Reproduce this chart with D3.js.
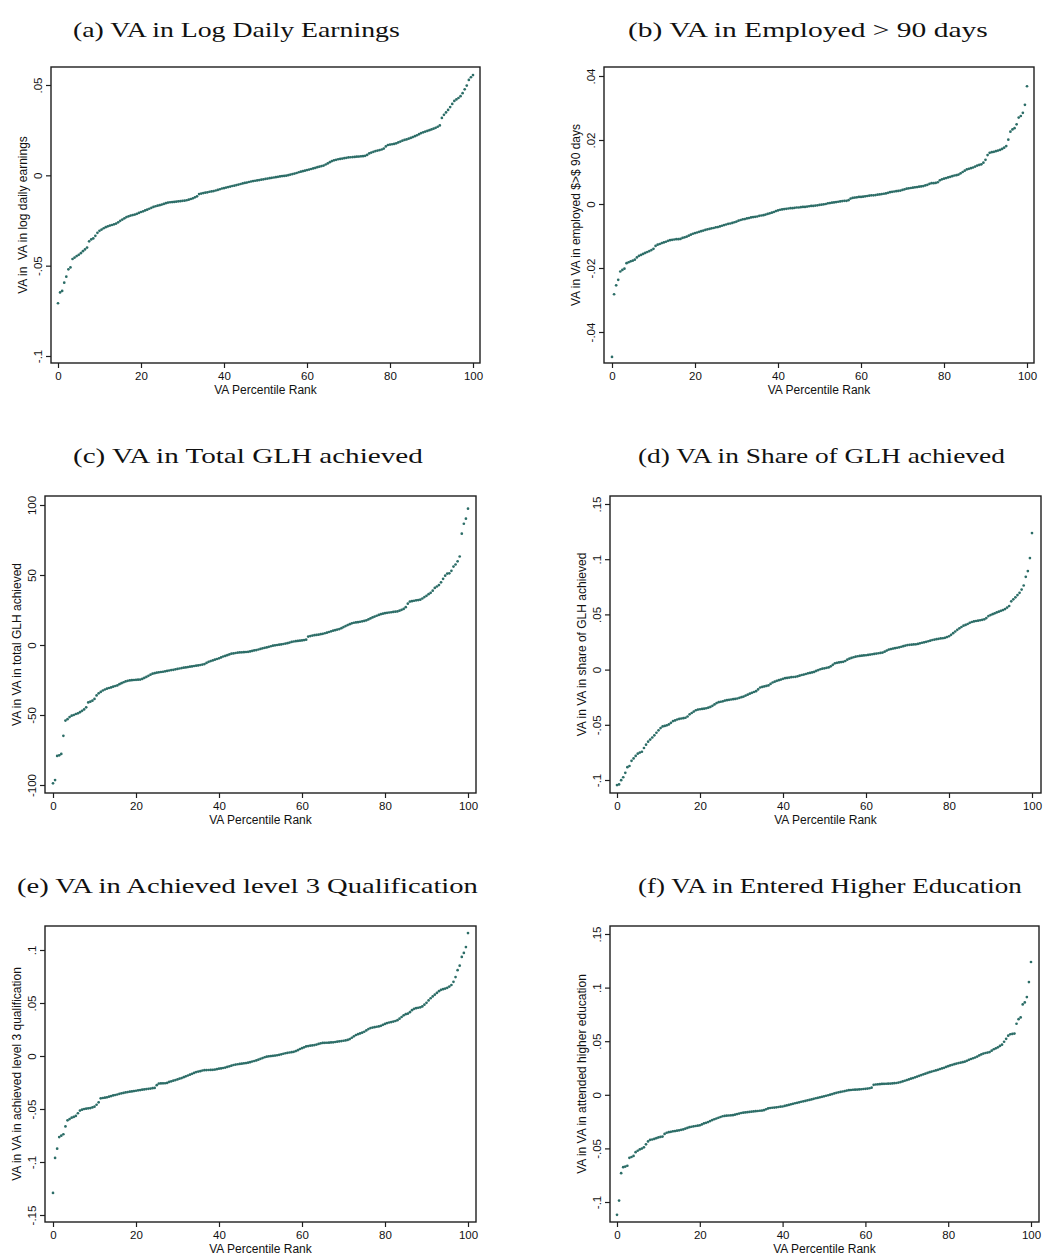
<!DOCTYPE html>
<html><head><meta charset="utf-8">
<script src="https://cdn.jsdelivr.net/npm/d3@7"></script>
<style>body{margin:0;background:#fff}svg{display:block}</style>
</head><body>
<svg id="chart" width="1043" height="1255"></svg>
<script>
// Percentile rank positions (x) shared by all panels
const pctRank = d3.range(0, 100.01, 0.5);
const xTicks = [0, 20, 40, 60, 80, 100];

// (a) VA in log daily earnings
const vaEarnings = [-0.0708,-0.0648,-0.064,-0.0594,-0.0561,-0.052,-0.051,-0.0463,-0.0455,-0.0447,-0.044,-0.0431,-0.042,-0.041,-0.040,-0.0365,-0.0355,-0.0349,-0.0335,-0.0318,
-0.0307,-0.030,-0.0293,-0.0287,-0.0282,-0.0278,-0.0275,-0.0271,-0.0267,-0.026,-0.0252,-0.0245,-0.0238,-0.0231,-0.0227,-0.0223,-0.022,-0.0217,-0.0213,-0.0208,
-0.0203,-0.0199,-0.0194,-0.019,-0.0185,-0.018,-0.0175,-0.0171,-0.0168,-0.0165,-0.0162,-0.0158,-0.0154,-0.0151,-0.0149,-0.0148,-0.0147,-0.0146,-0.0144,-0.0143,
-0.0141,-0.014,-0.0138,-0.0135,-0.0131,-0.0127,-0.0122,-0.0116,-0.0104,-0.0101,-0.0098,-0.0096,-0.0094,-0.0091,-0.0089,-0.0087,-0.0084,-0.0081,-0.0077,-0.0073,
-0.0071,-0.0068,-0.0065,-0.0062,-0.0059,-0.0057,-0.0054,-0.0051,-0.0048,-0.0045,-0.0042,-0.004,-0.0037,-0.0034,-0.0032,-0.003,-0.0028,-0.0026,-0.0024,-0.0022,
-0.002,-0.0018,-0.0016,-0.0014,-0.0012,-0.001,-0.0008,-0.0006,-0.0004,-0.0003,-0.0002,0.0001,0.0004,0.0007,0.001,0.0013,0.0017,0.002,0.0023,0.0026,
0.0029,0.0032,0.0035,0.0038,0.0041,0.0045,0.0048,0.0051,0.0054,0.006,0.0066,0.0073,0.0079,0.0083,0.0086,0.0089,0.0091,0.0093,0.0095,0.0097,
0.0099,0.01,0.0101,0.0102,0.0103,0.0104,0.0105,0.0106,0.0108,0.0113,0.0121,0.0126,0.013,0.0134,0.0137,0.014,0.0143,0.0148,0.016,0.0168,
0.017,0.0172,0.0174,0.0177,0.0182,0.0187,0.0192,0.0196,0.0199,0.0203,0.0207,0.0212,0.0217,0.0222,0.0228,0.0234,0.0238,0.0242,0.0246,0.025,
0.0254,0.0258,0.0263,0.0269,0.0276,0.0318,0.0335,0.0348,0.0362,0.0378,0.0395,0.0412,0.042,0.0428,0.0438,0.0455,0.0476,0.0497,0.0528,0.0543,
0.0555];

// (b) VA in employed > 90 days
const vaEmployed = [-0.0478,-0.0282,-0.0254,-0.0237,-0.0211,-0.0206,-0.0202,-0.0185,-0.0182,-0.0179,-0.0177,-0.0174,-0.0167,-0.0162,-0.0159,-0.0156,-0.0153,-0.015,-0.0147,-0.0144,
-0.014,-0.0131,-0.0127,-0.0125,-0.0122,-0.012,-0.0118,-0.0115,-0.0113,-0.0112,-0.0111,-0.011,-0.011,-0.0109,-0.0106,-0.0104,-0.0102,-0.0099,-0.0096,-0.0093,
-0.0091,-0.0089,-0.0087,-0.0085,-0.0083,-0.0081,-0.0079,-0.0078,-0.0076,-0.0075,-0.0073,-0.0072,-0.007,-0.0068,-0.0066,-0.0064,-0.0062,-0.0061,-0.0059,-0.0057,
-0.0055,-0.0052,-0.005,-0.0048,-0.0047,-0.0045,-0.0044,-0.0042,-0.0041,-0.004,-0.0039,-0.0037,-0.0036,-0.0035,-0.0033,-0.0031,-0.0029,-0.0027,-0.0025,-0.0022,
-0.002,-0.0018,-0.0017,-0.0016,-0.0015,-0.0014,-0.0013,-0.0013,-0.0012,-0.0011,-0.0011,-0.001,-0.0009,-0.0009,-0.0008,-0.0007,-0.0006,-0.0006,-0.0005,-0.0004,
-0.0003,-0.0002,-0.0001,0,0.0002,0.0003,0.0004,0.0005,0.0006,0.0007,0.0008,0.0009,0.001,0.001,0.0012,0.0017,0.0019,0.002,0.0021,0.0022,
0.0022,0.0023,0.0024,0.0025,0.0026,0.0027,0.0027,0.0028,0.0029,0.003,0.0031,0.0032,0.0033,0.0035,0.0037,0.0038,0.0039,0.004,0.0041,0.0042,
0.0044,0.0046,0.0048,0.0049,0.005,0.0051,0.0052,0.0053,0.0054,0.0055,0.0056,0.0058,0.006,0.0063,0.0065,0.0065,0.0066,0.0068,0.0074,0.0077,
0.0079,0.0081,0.0083,0.0085,0.0087,0.0089,0.009,0.0092,0.0096,0.01,0.0104,0.0108,0.011,0.0112,0.0114,0.0117,0.012,0.0122,0.0124,0.0129,
0.0138,0.0153,0.016,0.0162,0.0163,0.0165,0.0167,0.0169,0.0172,0.0176,0.0181,0.0201,0.0226,0.0233,0.0237,0.0249,0.027,0.0275,0.0285,0.031,
0.0368];

// (c) VA in total GLH achieved
const vaTotalGLH = [-98.8,-96.5,-79.2,-78.8,-77.8,-64.9,-54,-53,-51.5,-50.5,-50,-49.3,-48.8,-48,-47,-46,-44.5,-41,-40.5,-39.8,
-38.5,-36,-34.5,-33.5,-32.5,-31.8,-31.2,-30.7,-30.3,-29.8,-29.3,-28.9,-28,-27.3,-26.6,-26,-25.6,-25.3,-25.1,-25,
-24.9,-24.8,-24.7,-24.2,-23.5,-22.8,-22,-21.2,-20.5,-20.1,-19.8,-19.5,-19.3,-19.1,-18.8,-18.5,-18.2,-17.9,-17.7,-17.4,
-17.1,-16.8,-16.5,-16.2,-16,-15.8,-15.5,-15.3,-15,-14.8,-14.6,-14.3,-14,-13.6,-12.8,-12,-11.5,-11,-10.5,-10,
-9.5,-8.9,-8.2,-7.8,-7.3,-6.7,-6.2,-6,-5.7,-5.5,-5.3,-5.2,-5.1,-5,-4.9,-4.6,-4.2,-3.9,-3.6,-3.2,
-2.8,-2.4,-2,-1.7,-1.3,-0.9,-0.5,-0.2,0,0.2,0.4,0.7,1,1.3,1.7,2.2,2.5,2.7,2.9,3.1,
3.3,3.5,3.8,6,6.4,6.7,7,7.2,7.4,7.7,8,8.4,8.8,9.3,9.8,10.2,10.6,11,11.4,12,
12.8,13.5,14.2,14.9,15.5,15.9,16.1,16.3,16.6,16.9,17.2,17.6,18.3,19,19.7,20.3,20.9,21.5,22,22.4,
22.7,23,23.2,23.4,23.6,23.8,24,24.5,25.1,25.8,27,29.5,31,31.3,31.6,31.9,32.1,32.4,33.2,34.2,
35.1,36.3,37.3,38.8,40.8,41.8,42.8,44.8,47.3,49.5,51,51.2,53,56,57.5,59.8,63.2,79.5,86.6,90.2,
97.4];

// (d) VA in share of GLH achieved
const vaShareGLH = [-0.1046,-0.104,-0.1002,-0.0975,-0.0935,-0.0884,-0.0873,-0.0826,-0.0805,-0.0782,-0.0762,-0.0752,-0.0744,-0.071,-0.068,-0.0653,-0.0634,-0.0615,-0.0595,-0.0572,
-0.055,-0.053,-0.0515,-0.051,-0.0505,-0.0497,-0.0482,-0.0466,-0.046,-0.0452,-0.0447,-0.0443,-0.044,-0.0436,-0.0425,-0.0405,-0.0393,-0.038,-0.0368,-0.0362,
-0.0359,-0.0356,-0.0354,-0.035,-0.0345,-0.0338,-0.0328,-0.0315,-0.0303,-0.0295,-0.0291,-0.0287,-0.0281,-0.0277,-0.0274,-0.0271,-0.0268,-0.0266,-0.0262,-0.0256,
-0.025,-0.0244,-0.0235,-0.0227,-0.0218,-0.021,-0.0203,-0.0195,-0.018,-0.0162,-0.0157,-0.0152,-0.0148,-0.0143,-0.013,-0.0117,-0.0109,-0.0102,-0.0096,-0.009,
-0.0084,-0.0078,-0.0075,-0.0072,-0.0069,-0.0067,-0.0065,-0.0061,-0.0055,-0.0049,-0.0045,-0.004,-0.0034,-0.003,-0.0026,-0.0021,-0.0012,-0.0004,0.0003,0.0008,
0.0012,0.0016,0.002,0.003,0.0043,0.0057,0.0061,0.0065,0.0068,0.007,0.0078,0.009,0.0099,0.0106,0.0112,0.0117,0.0121,0.0124,0.0126,0.0128,
0.013,0.0133,0.0136,0.0139,0.0142,0.0145,0.0148,0.0151,0.0154,0.0162,0.0172,0.0181,0.0186,0.019,0.0194,0.0198,0.0202,0.0207,0.0212,0.0218,
0.0222,0.0224,0.0226,0.0228,0.0229,0.0233,0.0238,0.0243,0.0247,0.0252,0.0257,0.0262,0.0268,0.0272,0.0276,0.0279,0.0282,0.0284,0.0288,0.0295,
0.0302,0.0315,0.033,0.0345,0.036,0.0374,0.0386,0.0398,0.0405,0.0413,0.0424,0.0431,0.0436,0.044,0.0443,0.0447,0.0451,0.0455,0.0467,0.0485,
0.0494,0.0502,0.051,0.0518,0.0525,0.0532,0.0539,0.0548,0.0562,0.0576,0.0618,0.0637,0.0655,0.0675,0.0695,0.0725,0.0762,0.084,0.0892,0.101,
0.1237];

// (e) VA in achieved level 3 qualification
const vaLevel3 = [-0.1292,-0.0962,-0.0874,-0.0765,-0.0752,-0.0738,-0.0664,-0.0607,-0.0595,-0.0582,-0.0575,-0.0565,-0.054,-0.0515,-0.0506,-0.05,-0.0497,-0.0494,-0.0491,-0.0485,
-0.0478,-0.046,-0.0437,-0.0399,-0.0396,-0.0393,-0.039,-0.0384,-0.0378,-0.0372,-0.0368,-0.0363,-0.0357,-0.0352,-0.0348,-0.0344,-0.034,-0.0337,-0.0334,-0.0331,
-0.0328,-0.0324,-0.0321,-0.0318,-0.0315,-0.0312,-0.031,-0.0307,-0.0304,-0.0301,-0.0275,-0.026,-0.0259,-0.0258,-0.0257,-0.0254,-0.0245,-0.0239,-0.0233,-0.0227,
-0.0221,-0.0214,-0.0208,-0.02,-0.0192,-0.0184,-0.0176,-0.0168,-0.016,-0.0152,-0.0147,-0.0143,-0.0137,-0.0134,-0.0133,-0.0132,-0.0131,-0.013,-0.0128,-0.0124,
-0.012,-0.0117,-0.0113,-0.0109,-0.0103,-0.0097,-0.0091,-0.0085,-0.0081,-0.0078,-0.0075,-0.0072,-0.0069,-0.0067,-0.0063,-0.0058,-0.0052,-0.0047,-0.0042,-0.0035,
-0.0027,-0.002,-0.0012,-0.0006,-0.0003,-0.0001,0.0002,0.0004,0.0007,0.0011,0.0016,0.0021,0.0026,0.003,0.0033,0.0036,0.0039,0.0046,0.0055,0.0066,
0.0074,0.0082,0.009,0.0094,0.0097,0.01,0.0103,0.0108,0.0114,0.012,0.0123,0.0124,0.0125,0.0126,0.0128,0.0129,0.0132,0.0135,0.0138,0.0141,
0.0144,0.0147,0.0152,0.016,0.0172,0.0186,0.0198,0.0206,0.0213,0.022,0.0229,0.0241,0.0254,0.0263,0.0268,0.0272,0.0276,0.0279,0.0285,0.0294,
0.0303,0.0311,0.0316,0.032,0.0325,0.033,0.0338,0.0352,0.0368,0.0384,0.0395,0.0399,0.0413,0.0432,0.0445,0.0451,0.0455,0.0459,0.0468,0.0484,
0.0502,0.0524,0.0545,0.0562,0.0579,0.0595,0.0612,0.0624,0.063,0.0636,0.0643,0.0655,0.067,0.07,0.0745,0.081,0.0852,0.0935,0.0972,0.1028,
0.116];

// (f) VA in attended higher education
const vaHigherEd = [-0.112,-0.0987,-0.0731,-0.0675,-0.067,-0.0662,-0.0588,-0.058,-0.057,-0.0535,-0.0522,-0.051,-0.0502,-0.049,-0.0462,-0.0435,-0.042,-0.0417,-0.0412,-0.0405,
-0.0398,-0.0393,-0.039,-0.0365,-0.0354,-0.0349,-0.0345,-0.0341,-0.0338,-0.0335,-0.0331,-0.0327,-0.0323,-0.0316,-0.0309,-0.0302,-0.0298,-0.0294,-0.0291,-0.0288,
-0.0285,-0.0276,-0.0267,-0.0261,-0.0254,-0.0245,-0.0236,-0.0228,-0.0221,-0.0214,-0.0207,-0.02,-0.0197,-0.0195,-0.0193,-0.0191,-0.019,-0.0185,-0.018,-0.0175,
-0.017,-0.0167,-0.0164,-0.0162,-0.016,-0.0157,-0.0155,-0.0153,-0.0151,-0.0149,-0.0147,-0.0143,-0.0135,-0.0127,-0.0123,-0.0121,-0.0119,-0.0117,-0.0114,-0.0111,
-0.0109,-0.0104,-0.0099,-0.0094,-0.0089,-0.0084,-0.0079,-0.0075,-0.007,-0.0065,-0.0061,-0.0057,-0.0052,-0.0048,-0.0043,-0.0038,-0.0032,-0.0028,-0.0024,-0.0019,
-0.0014,-0.0009,-0.0004,0.0001,0.0007,0.0013,0.0018,0.0023,0.0027,0.0031,0.0035,0.0039,0.0043,0.0045,0.0047,0.0048,0.0049,0.005,0.0052,0.0054,
0.0056,0.0058,0.0061,0.0066,0.0093,0.0096,0.0098,0.0099,0.0101,0.0102,0.0103,0.0104,0.0105,0.0106,0.0108,0.011,0.0114,0.0119,0.0125,0.0131,
0.0137,0.0143,0.015,0.0156,0.0163,0.017,0.0177,0.0184,0.0191,0.0197,0.0204,0.0211,0.0217,0.0222,0.0227,0.0233,0.024,0.0246,0.0252,0.026,
0.0267,0.0274,0.028,0.0286,0.0291,0.0296,0.03,0.0304,0.0309,0.0317,0.0326,0.0334,0.0341,0.0348,0.0357,0.0367,0.0377,0.0385,0.039,0.0394,
0.0399,0.0412,0.0425,0.0434,0.0443,0.0456,0.0468,0.0495,0.0522,0.0552,0.0565,0.0568,0.0571,0.0663,0.0705,0.0722,0.0843,0.0862,0.0912,0.1052,
0.1239];

const titles = ["(a) VA in Log Daily Earnings","(b) VA in Employed > 90 days","(c) VA in Total GLH achieved",
  "(d) VA in Share of GLH achieved","(e) VA in Achieved level 3 Qualification","(f) VA in Entered Higher Education"];
const yTitles = ["VA in  VA in log daily earnings","VA in VA in employed $>$ 90 days","VA in VA in total GLH achieved",
  "VA in VA in share of GLH achieved","VA in VA in achieved level 3 qualification","VA in VA in attended higher education"];
const yTickValues = [[-0.1,-0.05,0,0.05],[-0.04,-0.02,0,0.02,0.04],[-100,-50,0,50,100],
  [-0.1,-0.05,0,0.05,0.1,0.15],[-0.15,-0.1,-0.05,0,0.05,0.1],[-0.1,-0.05,0,0.05,0.1,0.15]];
const yTickLabels = [["-.1","-.05","0",".05"],["-.04","-.02","0",".02",".04"],["-100","-50","0","50","100"],
  ["-.1","-.05","0",".05",".1",".15"],["-.15","-.1","-.05","0",".05",".1"],["-.1","-.05","0",".05",".1",".15"]];
const series = [vaEarnings, vaEmployed, vaTotalGLH, vaShareGLH, vaLevel3, vaHigherEd];
const xTitle = "VA Percentile Rank";

// layout (pixel geometry only)
const layout = [
  {fx0:51, fx1:480, fy0:67, fy1:363, xr:[58,473], yd:[-0.1,0.05], yr:[356,85], tx:73, tw:327, ty:37},
  {fx0:604, fx1:1034, fy0:67, fy1:363, xr:[612,1027], yd:[-0.04,0.04], yr:[332,76], tx:628, tw:360, ty:37},
  {fx0:45, fx1:476, fy0:496, fy1:793, xr:[53,468], yd:[-100,100], yr:[785,505], tx:73, tw:350, ty:463},
  {fx0:610, fx1:1041, fy0:496, fy1:793, xr:[617,1032], yd:[-0.1,0.15], yr:[780,504], tx:638, tw:367, ty:463},
  {fx0:45, fx1:476, fy0:926, fy1:1222, xr:[53,468], yd:[-0.15,0.1], yr:[1215,950], tx:17, tw:461, ty:893},
  {fx0:610, fx1:1039, fy0:926, fy1:1222, xr:[617,1031], yd:[-0.1,0.15], yr:[1202,934], tx:638, tw:384, ty:893}
];

const svg = d3.select("#chart");
svg.append("rect").attr("width",1043).attr("height",1255).attr("fill","#fff");
const ink = "#1e1e1e";
const dotColor = "#2c6d67";
const sans = "'Liberation Sans',Arial,Helvetica,sans-serif";

layout.forEach((L, i) => {
  const g = svg.append("g");
  const x = d3.scaleLinear().domain([0,100]).range(L.xr);
  const y = d3.scaleLinear().domain(L.yd).range(L.yr);

  // title: serif, stretched horizontally to the reference width
  const tg = g.append("g");
  const tt = tg.append("text").attr("x", 0).attr("y", 0)
    .attr("font-family", "'Liberation Serif','DejaVu Serif',serif").attr("font-size", 22)
    .attr("fill", "#111").text(titles[i]);
  const w0 = tt.node().getComputedTextLength();
  tg.attr("transform", `translate(${L.tx},${L.ty}) scale(${L.tw / w0},1)`);

  // points
  g.append("g").selectAll("circle").data(series[i]).join("circle")
    .attr("cx", (d, k) => x(pctRank[k])).attr("cy", d => y(d))
    .attr("r", 1.35).attr("fill", dotColor);

  // frame
  g.append("rect").attr("x", L.fx0).attr("y", L.fy0)
    .attr("width", L.fx1 - L.fx0).attr("height", L.fy1 - L.fy0)
    .attr("fill", "none").attr("stroke", ink).attr("stroke-width", 1.4);

  // x axis
  const xa = g.append("g").attr("transform", `translate(0,${L.fy1})`)
    .call(d3.axisBottom(x).tickValues(xTicks).tickFormat(d3.format("d")).tickSize(5).tickSizeOuter(0));
  xa.select(".domain").remove();
  xa.selectAll("line").attr("stroke", ink).attr("stroke-width", 1.2);
  xa.selectAll("text").attr("font-family", sans)
    .attr("font-size", 11.5).attr("fill", "#111").attr("y", 9).attr("dy", "0.71em");

  // y axis
  const ya = g.append("g").attr("transform", `translate(${L.fx0},0)`)
    .call(d3.axisLeft(y).tickValues(yTickValues[i]).tickFormat((d, k) => yTickLabels[i][k]).tickSize(5).tickSizeOuter(0));
  ya.select(".domain").remove();
  ya.selectAll("line").attr("stroke", ink).attr("stroke-width", 1.2);
  ya.selectAll("text").attr("font-family", sans)
    .attr("font-size", 11.5).attr("fill", "#111")
    .attr("x", 0).attr("y", -9).attr("dy", 0)
    .attr("text-anchor", "middle").attr("transform", "rotate(-90)");

  // axis titles
  g.append("text").attr("x", (L.fx0 + L.fx1) / 2).attr("y", L.fy1 + 31)
    .attr("text-anchor", "middle").attr("font-family", sans)
    .attr("font-size", 12).attr("fill", "#111").text(xTitle);
  g.append("text")
    .attr("transform", `translate(${L.fx0 - 24},${(L.fy0 + L.fy1) / 2}) rotate(-90)`)
    .attr("text-anchor", "middle").attr("font-family", sans)
    .attr("font-size", 12).attr("fill", "#111")
    .style("white-space", "pre").attr("xml:space", "preserve").text(yTitles[i]);
});
</script>
</body></html>
